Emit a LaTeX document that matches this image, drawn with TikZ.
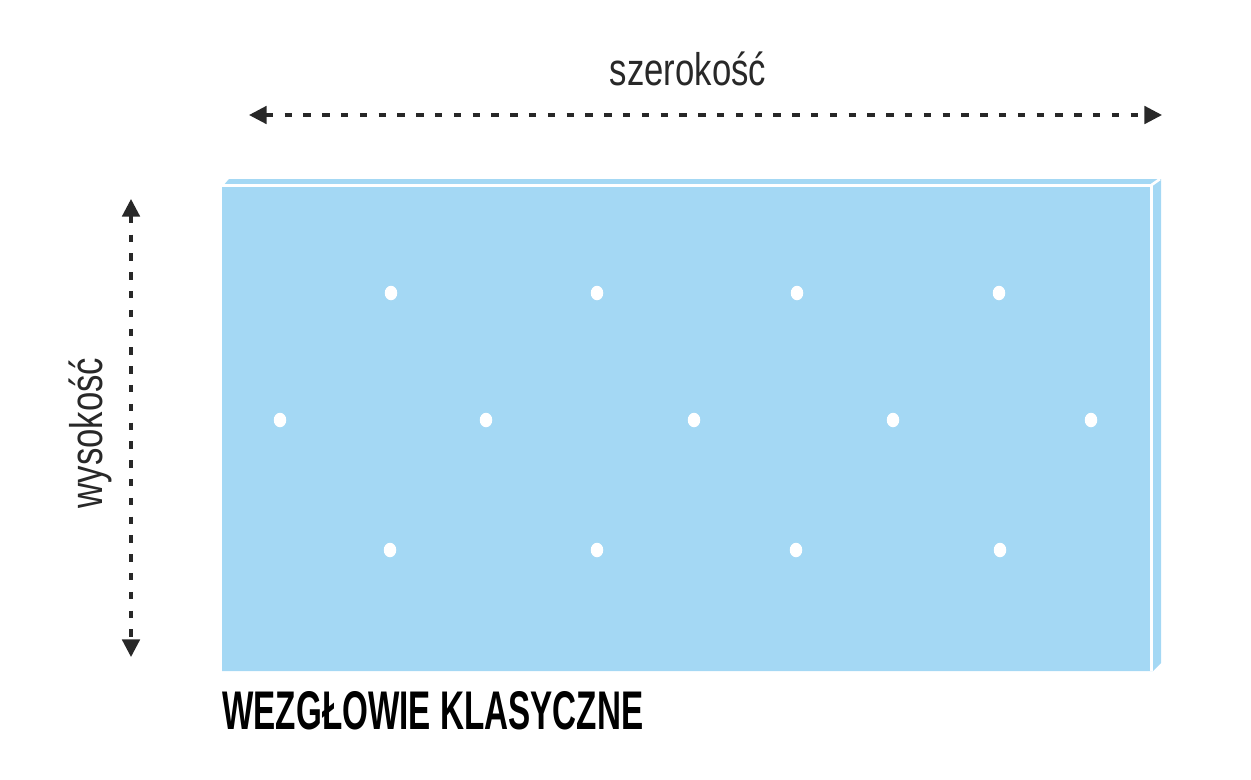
\documentclass[tikz,border=0pt]{standalone}
\usepackage{fontspec}
\usetikzlibrary{positioning,arrows.meta,shapes.geometric}
\newfontfamily\dimfont[FakeStretch=0.76]{Liberation Sans}
\newfontfamily\titlefont[FakeStretch=0.61]{Liberation Sans}
\definecolor{panelblue}{RGB}{164,216,244}
\definecolor{dimgray}{RGB}{40,40,40}
\tikzset{dot/.style={ellipse,fill=white,minimum width=0.25cm,minimum height=0.29cm,inner sep=0pt},
  dim/.style={line width=1.8pt,dimgray,dash pattern=on 4.2pt off 6.5pt,{Triangle[length=10pt,width=10pt]}-{Triangle[length=10pt,width=10pt]}},
  dim label/.style={text=dimgray,font=\dimfont\fontsize{26}{30}\selectfont,inner sep=0pt},
  title node/.style={font=\titlefont\bfseries\fontsize{31}{36}\selectfont,inner sep=0pt} }

\begin{document}
\begin{tikzpicture}[x=0.02cm,y=-0.02cm]
\useasboundingbox (0,0) rectangle (1251,779);

  % headboard panel
  \fill[panelblue] (222,187) -- (229,179) -- (1161,179) -- (1161,663) -- (1153,671) -- (222,671) -- cycle;
  \draw[white,line width=1.7pt] (222,185) -- (1151.5,185) -- (1151.5,671);
  \draw[white,line width=1.5pt] (1151.5,185) -- (1160,179);

  \foreach \x [count=\i] in {391,597,797,999}
    \node[dot] (a\i) at (\x,293) {};
  \foreach \x [count=\i] in {280,486,694,893,1091}
    \node[dot] (b\i) at (\x,420) {};
  \foreach \x [count=\i] in {390,597,796,1000}
    \node[dot] (c\i) at (\x,550) {};

  \coordinate (wl) at (249,115);
  \coordinate (wr) at (1162,115);
  \coordinate (ht) at (131,199);
  \coordinate (hb) at (131,657);

  \draw[dim] (wl) -- (wr);
  \draw[dim] (ht) -- (hb);

  \node[dim label,anchor=base] (width) at (688,85) {szerokość};
  \node[dim label,anchor=base,rotate=90] (height) at (102,433) {wysokość};
  \node[title node,anchor=base west] (title) at (222,729) {WEZGŁOWIE KLASYCZNE};
\end{tikzpicture}
\end{document}
